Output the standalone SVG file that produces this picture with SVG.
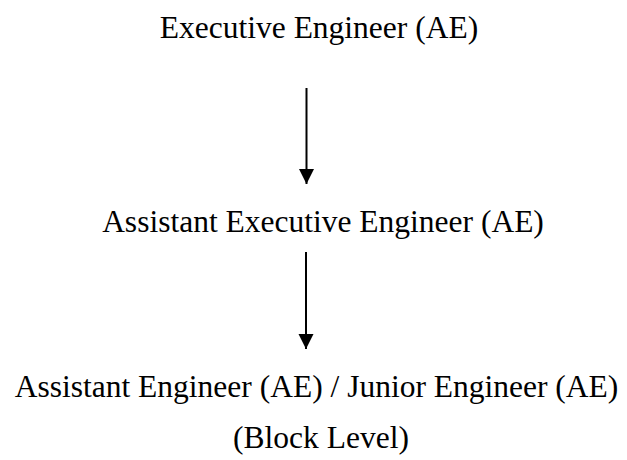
<svg xmlns="http://www.w3.org/2000/svg" width="627" height="460" viewBox="0 0 627 460">
  <style>
    .lbl { font-family: "Liberation Serif", "Times New Roman", serif; font-size: 31.5px; fill: #000; text-anchor: middle; }
    .link { stroke: #000; stroke-width: 2; fill: none; }
  </style>
  <defs>
    <marker id="head" markerUnits="userSpaceOnUse" markerWidth="16" markerHeight="16" refX="15" refY="7.5" orient="auto">
      <path d="M0,0 L15,7.5 L0,15 Z" fill="#000"/>
    </marker>
  </defs>
  <rect width="627" height="460" fill="#fff"/>

  <g id="executive-engineer">
    <text class="lbl" x="319" y="37.5">Executive Engineer (AE)</text>
  </g>

  <g id="assistant-executive-engineer">
    <text class="lbl" x="323" y="232">Assistant Executive Engineer (AE)</text>
  </g>

  <g id="assistant-junior-engineer">
    <text class="lbl" x="316.5" y="396.5">Assistant Engineer (AE) / Junior Engineer (AE)</text>
    <text class="lbl" x="321" y="448">(Block Level)</text>
  </g>

  <g id="connectors">
    <line class="link" x1="306.5" y1="88" x2="306.5" y2="184" marker-end="url(#head)"/>
    <line class="link" x1="306" y1="252" x2="306" y2="349" marker-end="url(#head)"/>
  </g>
</svg>
